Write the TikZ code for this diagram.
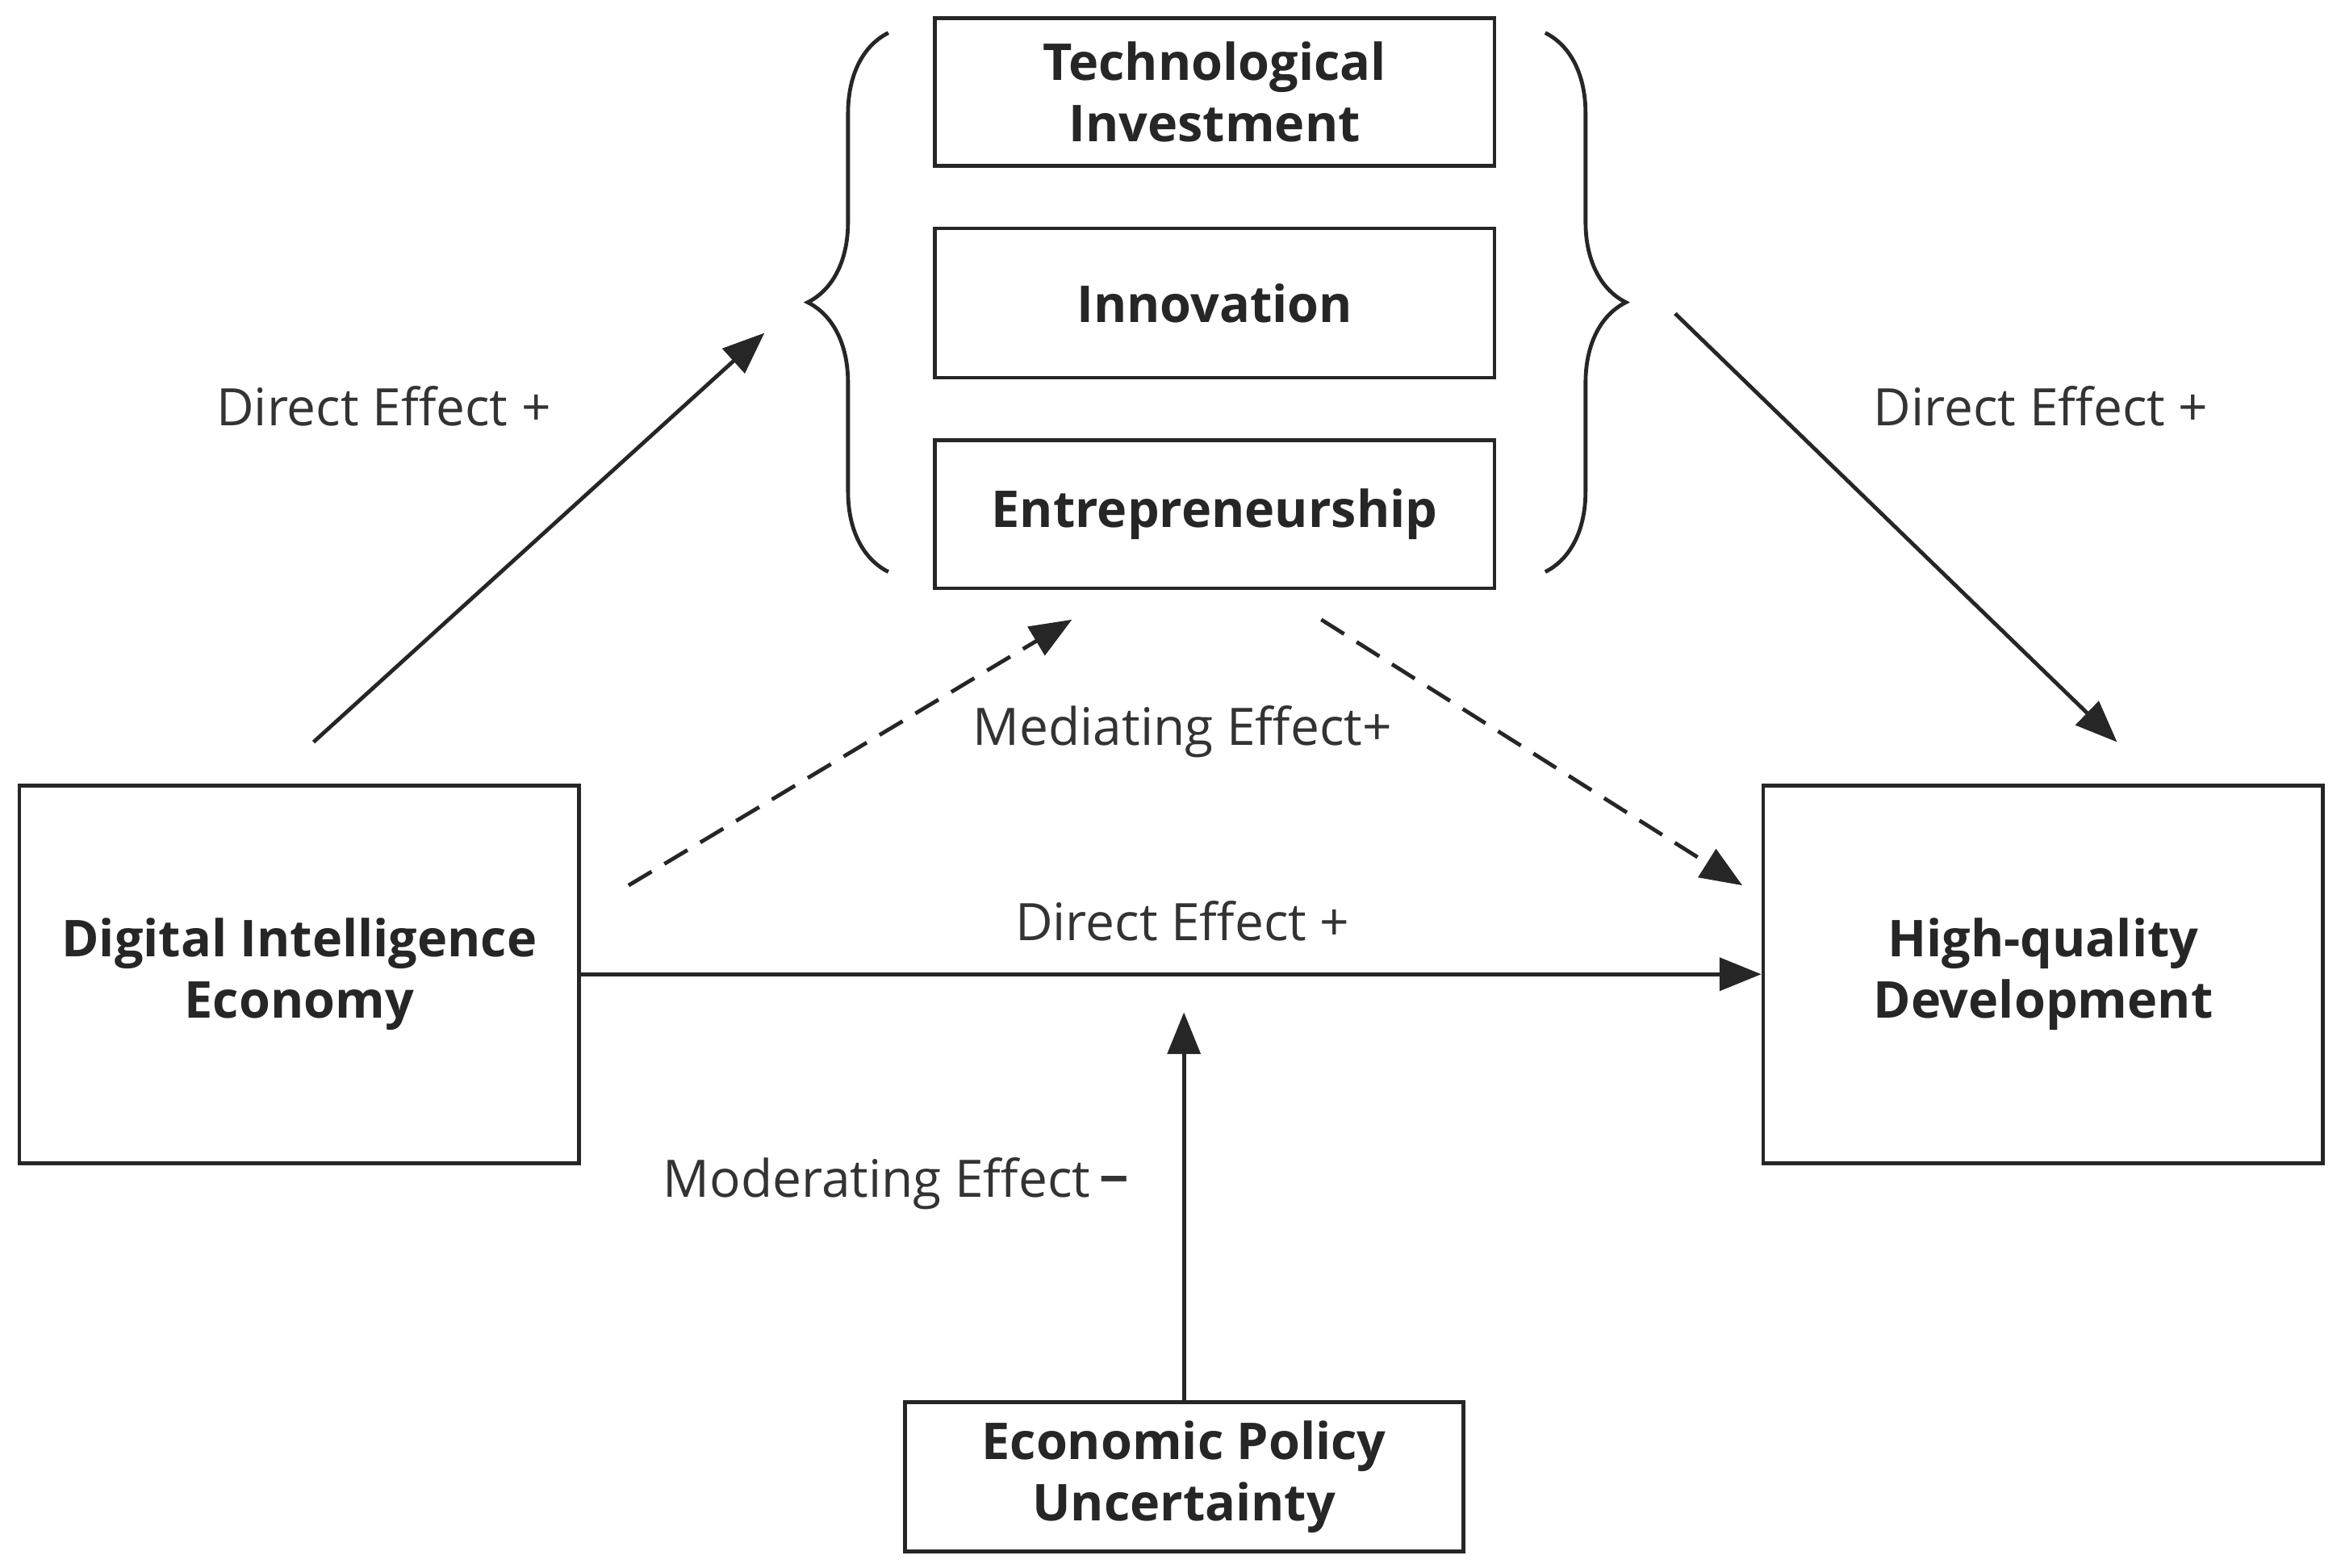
\documentclass[tikz,border=0pt]{standalone}
\usepackage{fontspec}
\setmainfont{Open Sans}
\usetikzlibrary{arrows.meta,decorations.pathreplacing}
\begin{document}
\begin{tikzpicture}[x=0.5pt,y=-0.5pt,
  box/.style={draw=black!85,line width=1.3pt,inner sep=0pt,align=center,font=\fontsize{17}{20.5}\selectfont\bfseries,text=black!85},
  lab/.style={font=\fontsize{17.3}{20}\selectfont,text=black!80},
  arr/.style={draw=black!85,line width=1.3pt,-{Triangle[length=14pt,width=11pt]}},
  darr/.style={arr,dash pattern=on 9pt off 5pt}]
\useasboundingbox (0,0) rectangle (1568,1050);
\node[box,minimum width=187.5pt,minimum height=49.5pt] (ti) at (813.5,61.5) {Technological\\Investment};
\node[box,minimum width=187.5pt,minimum height=50pt] (in) at (813.5,203) {Innovation};
\node[box,minimum width=187.5pt,minimum height=49.5pt] (en) at (813.5,344.5) {Entrepreneurship};
\node[box,minimum width=187.5pt,minimum height=126.5pt] (die) at (200.5,652.5) {Digital Intelligence\\Economy};
\node[box,minimum width=187.5pt,minimum height=126.5pt] (hqd) at (1368.5,652.5) {High-quality\\Development};
\node[box,minimum width=187pt,minimum height=50pt] (epu) at (793,989) {Economic Policy\\Uncertainty};
\draw[black!85,line width=1.3pt,decorate,decoration={brace,amplitude=27pt}] (595,383) -- (595,22);
\draw[black!85,line width=1.3pt,decorate,decoration={brace,amplitude=27pt}] (1035,22) -- (1035,383);
\coordinate (a1) at (210,497); \coordinate (a2) at (512,223);
\coordinate (b1) at (1122,210); \coordinate (b2) at (1418,497);
\coordinate (c1) at (421,593); \coordinate (c2) at (718,415);
\coordinate (d1) at (885,415); \coordinate (d2) at (1167,593);
\coordinate (v) at (793,678);
\draw[arr] (a1) -- (a2);
\draw[arr] (b1) -- (b2);
\draw[darr] (c1) -- (c2);
\draw[darr] (d1) -- (d2);
\draw[arr] (die.east) -- (hqd.west);
\draw[arr] (epu.north) -- (v);
\node[lab] (l1) at (257,272) {Direct Effect +};
\node[lab] (l2) at (1367,272) {Direct Effect +};
\node[lab] (l3) at (792,490) {Mediating Effect+};
\node[lab] (l4) at (792,617) {Direct Effect +};
\node[lab] (l5) at (600,793) {Moderating Effect\,\textbf{−}};
\end{tikzpicture}
\end{document}
